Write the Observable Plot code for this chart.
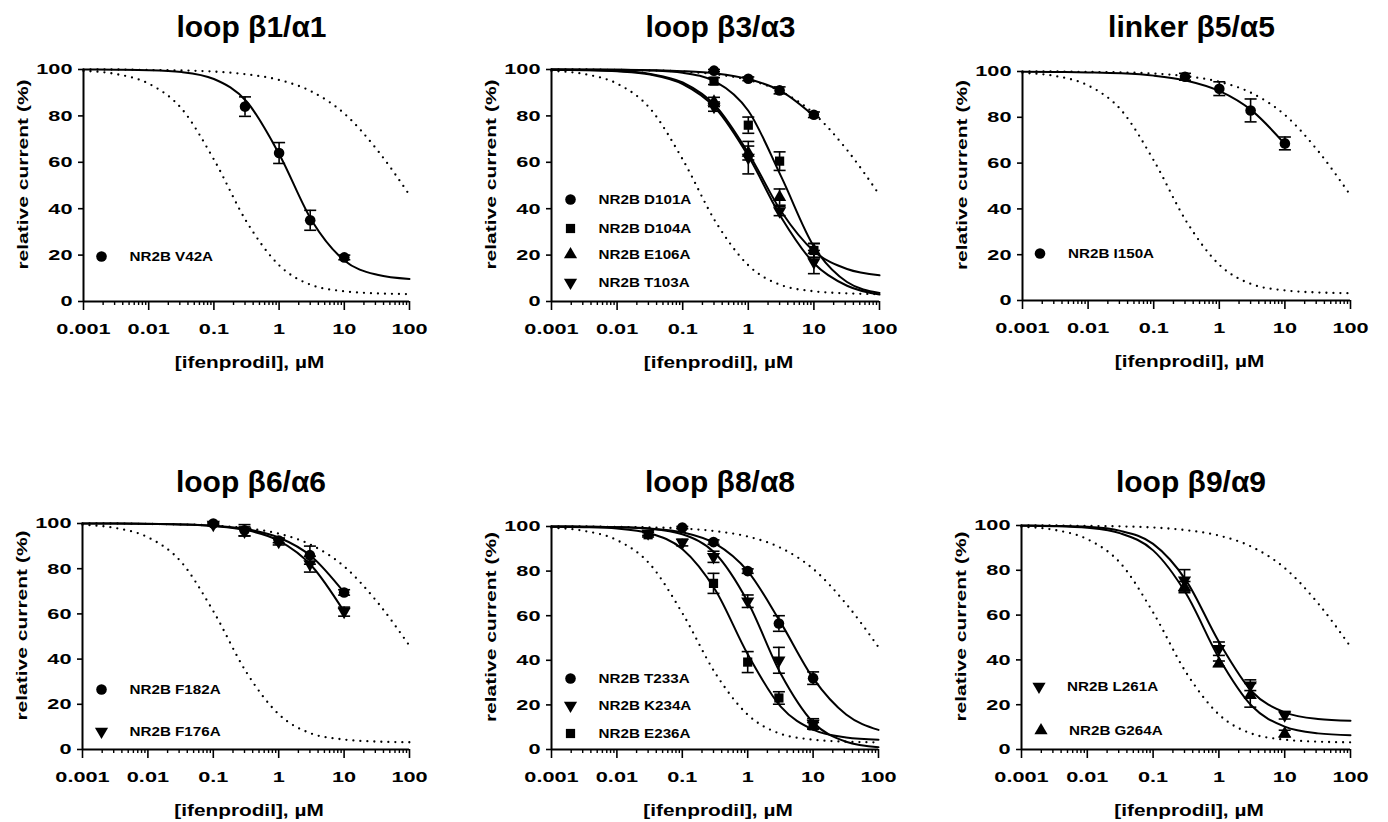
<!DOCTYPE html>
<html><head><meta charset="utf-8">
<script src="https://cdn.jsdelivr.net/npm/d3@7"></script>
<script src="https://cdn.jsdelivr.net/npm/@observablehq/plot@0.6"></script>
<style>
html,body{margin:0;padding:0;background:#fff;}
#root{position:relative;width:1388px;height:822px;overflow:hidden;background:#fff;}
.panel{position:absolute;}
</style></head><body><div id="root"></div>
<script>
// ---------- shared axis / text values ----------
const TITLES = ["loop β1/α1", "loop β3/α3", "linker β5/α5", "loop β6/α6", "loop β8/α8", "loop β9/α9"];
const X_TICKS = [0.001, 0.01, 0.1, 1, 10, 100];
const X_TICK_LABELS = ["0.001", "0.01", "0.1", "1", "10", "100"];
const MINOR_MULT = [2, 3, 4, 5, 6, 7, 8, 9];
const Y_TICKS = [0, 20, 40, 60, 80, 100];
const X_LABEL = "[ifenprodil], µM";
const Y_LABEL = "relative current (%)";

// concentrations at which the curves were read (µM)
const CONC_GRID = [0.001, 0.0032, 0.01, 0.032, 0.1, 0.32, 1, 3.2, 10, 32, 100];
// dotted reference curves
const REF_LOW = [99.4, 98.0, 93.9, 83.1, 61.2, 34.2, 15.6, 7.0, 4.4, 3.5, 3.2];
const REF_HIGH = [100, 100, 99.8, 99.6, 99.1, 97.9, 95.5, 90.4, 81.0, 65.3, 45.9];

// ---------- loop β1/α1 ----------
const V42A_CONC = [0.3, 1, 3, 10];
const V42A_MEAN = [84, 64, 35, 19];
const V42A_ERR = [4.2, 4.5, 4.3, 1];
const V42A_FIT = [100, 99.9, 99.7, 98.9, 95.9, 86.1, 63.6, 34.7, 17.7, 11.5, 9.7];

// ---------- loop β3/α3 ----------
const D101A_CONC = [0.3, 1, 3, 10];
const D101A_MEAN = [99.5, 96, 91, 80.5];
const D101A_ERR = [0.5, 0.8, 1.5, 1.2];
const D101A_FIT = [100, 99.9, 99.9, 99.7, 99.3, 98.3, 95.9, 90.6, 80.0];
const D104A_CONC = [0.3, 1, 3, 10];
const D104A_MEAN = [95, 76, 60.5, 22];
const D104A_ERR = [1.5, 3.5, 4, 3];
const D104A_FIT = [100, 100, 99.9, 99.6, 98.6, 94.7, 82.2, 53.6, 23.7, 8.4, 3.7];
const E106A_CONC = [0.3, 1, 3, 10];
const E106A_MEAN = [86, 64, 45, 22];
const E106A_ERR = [2, 3, 3.5, 3];
const E106A_FIT = [99.9, 99.8, 99.4, 98.1, 94.4, 84.2, 64.0, 38.7, 21.7, 14.0, 11.3];
const T103A_CONC = [0.3, 1, 3, 10];
const T103A_MEAN = [84, 62, 39, 17];
const T103A_ERR = [2, 7, 2, 5];
const T103A_FIT = [99.9, 99.7, 99.2, 97.8, 93.7, 83.2, 62.7, 36.1, 16.5, 6.8, 3.0];

// ---------- linker β5/α5 ----------
const I150A_CONC = [0.3, 1, 3, 10];
const I150A_MEAN = [97.7, 92.5, 83, 68.6];
const I150A_ERR = [1.5, 3, 5, 2.8];
const I150A_FIT = [99.9, 99.8, 99.6, 99.2, 98.2, 96.0, 91.5, 82.7, 68.3];

// ---------- loop β6/α6 ----------
const F182A_CONC = [0.1, 0.3, 1, 3, 10];
const F182A_MEAN = [100, 97, 92.5, 86, 69.5];
const F182A_ERR = [0.5, 2.5, 1, 4, 1.2];
const F182A_FIT = [100, 100, 99.8, 99.6, 99.0, 97.5, 93.8, 85.3, 69.5];
const F176A_CONC = [0.1, 0.3, 1, 3, 10];
const F176A_MEAN = [99.5, 96.5, 92, 82, 61];
const F176A_ERR = [0.5, 2, 1.5, 3.5, 2];
const F176A_FIT = [100, 100, 99.9, 99.6, 98.9, 97.1, 92.4, 81.2, 61.0];

// ---------- loop β8/α8 ----------
const T233A_CONC = [0.1, 0.3, 1, 3, 10];
const T233A_MEAN = [99.5, 93, 80, 56.5, 32];
const T233A_ERR = [0.5, 1, 1, 3.5, 2.8];
const T233A_FIT = [100, 99.9, 99.7, 99.1, 97.4, 92.3, 80.0, 56.9, 32.0, 15.7, 8.8];
const K234A_CONC = [0.03, 0.1, 0.3, 1, 3, 10];
const K234A_MEAN = [97, 92.8, 86.4, 66.5, 40, 11.6];
const K234A_ERR = [1, 1.5, 2.5, 2.8, 5.8, 2.2];
const K234A_FIT = [100, 99.9, 99.7, 99.0, 96.5, 87.9, 66.3, 34.0, 12.2, 3.5, 1.0];
const E236A_CONC = [0.03, 0.3, 1, 3, 10];
const E236A_MEAN = [96.3, 74.5, 39.2, 23.1, 10.6];
const E236A_ERR = [1, 4.5, 4.7, 2.8, 1.5];
const E236A_FIT = [99.9, 99.7, 99.1, 96.9, 89.9, 71.5, 42.7, 19.2, 8.9, 5.4, 4.4];

// ---------- loop β9/α9 ----------
const L261A_CONC = [0.3, 1, 3, 10];
const L261A_MEAN = [75.5, 45, 28.7, 15.3];
const L261A_ERR = [4.8, 3, 2.4, 1.7];
const L261A_FIT = [100, 99.8, 99.4, 97.6, 91.8, 75.3, 48.1, 25.8, 16.6, 13.6, 12.8];
const G264A_CONC = [0.3, 1, 3, 10];
const G264A_MEAN = [72.5, 38.3, 24.2, 7.1];
const G264A_ERR = [2.5, 1.2, 5.3, 1.5];
const G264A_FIT = [99.9, 99.7, 99.0, 96.5, 88.9, 69.4, 40.9, 19.3, 10.2, 7.2, 6.35];

// ---------- symbols ----------
const SQ3 = Math.sqrt(3);
const TRI_DOWN = {draw(ctx, size) {
  const y = -Math.sqrt(size / (SQ3 * 3));
  ctx.moveTo(0, -y * 2); ctx.lineTo(-SQ3 * y, y); ctx.lineTo(SQ3 * y, y); ctx.closePath();
}};
const CAP = {draw(ctx) { ctx.moveTo(-6, 0); ctx.lineTo(6, 0); }};
const SYM = {
  circle: {symbol: "circle", r: 5.3},
  square: {symbol: "square", r: 5.2},
  up: {symbol: "triangle", r: 4.9},
  down: {symbol: TRI_DOWN, r: 4.9}
};

const PANELS = [
  {title: TITLES[0], series: [
    {name: "NR2B V42A", sym: "circle", conc: V42A_CONC, mean: V42A_MEAN, err: V42A_ERR, fit: V42A_FIT}]},
  {title: TITLES[1], series: [
    {name: "NR2B D101A", sym: "circle", conc: D101A_CONC, mean: D101A_MEAN, err: D101A_ERR, fit: D101A_FIT},
    {name: "NR2B D104A", sym: "square", conc: D104A_CONC, mean: D104A_MEAN, err: D104A_ERR, fit: D104A_FIT},
    {name: "NR2B E106A", sym: "up", conc: E106A_CONC, mean: E106A_MEAN, err: E106A_ERR, fit: E106A_FIT},
    {name: "NR2B T103A", sym: "down", conc: T103A_CONC, mean: T103A_MEAN, err: T103A_ERR, fit: T103A_FIT}]},
  {title: TITLES[2], series: [
    {name: "NR2B I150A", sym: "circle", conc: I150A_CONC, mean: I150A_MEAN, err: I150A_ERR, fit: I150A_FIT}]},
  {title: TITLES[3], series: [
    {name: "NR2B F182A", sym: "circle", conc: F182A_CONC, mean: F182A_MEAN, err: F182A_ERR, fit: F182A_FIT},
    {name: "NR2B F176A", sym: "down", conc: F176A_CONC, mean: F176A_MEAN, err: F176A_ERR, fit: F176A_FIT}]},
  {title: TITLES[4], series: [
    {name: "NR2B T233A", sym: "circle", conc: T233A_CONC, mean: T233A_MEAN, err: T233A_ERR, fit: T233A_FIT},
    {name: "NR2B K234A", sym: "down", conc: K234A_CONC, mean: K234A_MEAN, err: K234A_ERR, fit: K234A_FIT},
    {name: "NR2B E236A", sym: "square", conc: E236A_CONC, mean: E236A_MEAN, err: E236A_ERR, fit: E236A_FIT}]},
  {title: TITLES[5], series: [
    {name: "NR2B L261A", sym: "down", conc: L261A_CONC, mean: L261A_MEAN, err: L261A_ERR, fit: L261A_FIT},
    {name: "NR2B G264A", sym: "up", conc: G264A_CONC, mean: G264A_MEAN, err: G264A_ERR, fit: G264A_FIT}]}
];

// ---------- layout (pixels) ----------
const LAYOUT = [
  {left: 0, top: 0, ml: 83, mt: 69, pw: 326, ph: 232, titleDy: -42, legend: [[18, -45]]},
  {left: 468, top: 0, ml: 83, mt: 69, pw: 328, ph: 232, titleDy: -42, legend: [[19, -102], [19, -73], [19, -47], [19, -19]]},
  {left: 939, top: 0, ml: 83, mt: 71, pw: 328, ph: 229, titleDy: -44, legend: [[17.5, -47]]},
  {left: 0, top: 453, ml: 82, mt: 70, pw: 327, ph: 226, titleDy: -41, legend: [[19, -60], [19, -18]]},
  {left: 468, top: 453, ml: 83, mt: 73, pw: 327, ph: 223, titleDy: -44, legend: [[19, -71], [19, -44], [19, -16]]},
  {left: 938, top: 453, ml: 83, mt: 72, pw: 329, ph: 224, titleDy: -43, legend: [[17.5, -63], [19.5, -19]]}
];

const FONT = "'Liberation Sans', Arial, Helvetica, sans-serif";
const MINOR_TICKS = X_TICKS.slice(0, -1).flatMap(t => MINOR_MULT.map(m => +(t * m).toPrecision(3)));
const refLow = CONC_GRID.map((c, i) => ({c, v: REF_LOW[i]}));
const refHigh = CONC_GRID.map((c, i) => ({c, v: REF_HIGH[i]}));

function stretchEl(t, s) {
  const tr = t.getAttribute("transform") || "";
  const x = +(t.getAttribute("x") || 0);
  t.setAttribute("transform", `${tr} translate(${x},0) scale(${s},1) translate(${-x},0)`);
}
function stretchAxis(svg, label, s) {
  svg.querySelectorAll(`g[aria-label="${label}"] text`).forEach(t => stretchEl(t, s));
}
function stretchText(svg, content, s) {
  svg.querySelectorAll("text").forEach(t => { if (t.textContent === content) stretchEl(t, s); });
}

function buildPanel(p, L) {
  const width = L.ml + L.pw + 50, height = L.mt + L.ph + 80;
  const marks = [
    Plot.line(refLow, {x: "c", y: "v", curve: "monotone-x", stroke: "#000", strokeWidth: 2.3, strokeDasharray: "0,7", strokeLinecap: "round"}),
    Plot.line(refHigh, {x: "c", y: "v", curve: "monotone-x", stroke: "#000", strokeWidth: 2.3, strokeDasharray: "0,7", strokeLinecap: "round"})
  ];
  p.series.forEach((s, k) => {
    const fit = s.fit.map((v, i) => ({c: CONC_GRID[i], v}));
    const pts = s.conc.map((c, i) => ({c, m: s.mean[i], e: s.err[i]}));
    const sy = SYM[s.sym];
    marks.push(
      Plot.line(fit, {x: "c", y: "v", curve: "monotone-x", stroke: "#000", strokeWidth: 2}),
      Plot.ruleX(pts, {x: "c", y1: d => d.m - d.e, y2: d => d.m + d.e, stroke: "#000", strokeWidth: 1.6}),
      Plot.dot(pts, {x: "c", y: d => d.m - d.e, symbol: CAP, fill: "none", stroke: "#000", strokeWidth: 1.6}),
      Plot.dot(pts, {x: "c", y: d => d.m + d.e, symbol: CAP, fill: "none", stroke: "#000", strokeWidth: 1.6}),
      Plot.dot(pts, {x: "c", y: "m", symbol: sy.symbol, r: sy.r, fill: "#000", stroke: "none"})
    );
    const [ldx, ldy] = L.legend[k];
    marks.push(
      Plot.dot([s.name], {frameAnchor: "bottom-left", dx: ldx, dy: ldy, symbol: sy.symbol, r: sy.r, fill: "#000", stroke: "none"}),
      Plot.text([s.name], {text: d => d, frameAnchor: "bottom-left", dx: ldx + 28, dy: ldy, textAnchor: "start", lineAnchor: "middle", fontSize: 13, fontWeight: "bold", fill: "#000"})
    );
  });
  marks.push(
    Plot.ruleX([X_TICKS[0]], {stroke: "#000", strokeWidth: 2}),
    Plot.ruleY([Y_TICKS[0]], {stroke: "#000", strokeWidth: 2}),
    Plot.axisX(MINOR_TICKS, {tickSize: 4, fill: "none", label: null, stroke: "#000", strokeWidth: 1.4}),
    Plot.axisX(X_TICKS, {tickSize: 9, tickPadding: 12, tickFormat: d => X_TICK_LABELS[X_TICKS.indexOf(d)], label: null, stroke: "#000", fill: "#000", strokeWidth: 1.6, fontSize: 15.5, fontWeight: "bold"}),
    Plot.axisY(Y_TICKS, {tickSize: 5, tickPadding: 6, label: null, stroke: "#000", fill: "#000", strokeWidth: 1.6, fontSize: 15.5, fontWeight: "bold"}),
    Plot.text([Y_LABEL], {text: d => d, frameAnchor: "left", rotate: -90, dx: -60, dy: -11, textAnchor: "middle", lineAnchor: "middle", fontSize: 15, fontWeight: "bold", fill: "#000"}),
    Plot.text([X_LABEL], {text: d => d, frameAnchor: "bottom", dx: 3, dy: 61, textAnchor: "middle", lineAnchor: "middle", fontSize: 16, fontWeight: "bold", fill: "#000"}),
    Plot.text([p.title], {text: d => d, frameAnchor: "top", dx: 5, dy: L.titleDy, textAnchor: "middle", lineAnchor: "middle", fontSize: 30, fontWeight: "bold", fill: "#000"})
  );
  const svg = Plot.plot({
    width, height,
    marginLeft: L.ml, marginTop: L.mt, marginRight: width - L.ml - L.pw, marginBottom: height - L.mt - L.ph,
    x: {type: "log", domain: [X_TICKS[0], X_TICKS[X_TICKS.length - 1]], axis: null, label: null},
    y: {domain: [Y_TICKS[0], Y_TICKS[Y_TICKS.length - 1]], axis: null, label: null},
    style: {fontFamily: FONT, background: "transparent", overflow: "visible", maxWidth: "none", color: "#000"},
    marks
  });
  stretchAxis(svg, "x-axis tick label", 1.4);
  stretchAxis(svg, "y-axis tick label", 1.4);
  stretchText(svg, Y_LABEL, 1.4);
  stretchText(svg, X_LABEL, 1.3);
  p.series.forEach(s => stretchText(svg, s.name, 1.17));
  const div = document.createElement("div");
  div.className = "panel";
  div.style.left = L.left + "px";
  div.style.top = L.top + "px";
  div.appendChild(svg);
  return div;
}

const root = document.getElementById("root");
PANELS.forEach((p, i) => root.appendChild(buildPanel(p, LAYOUT[i])));
</script></body></html>
